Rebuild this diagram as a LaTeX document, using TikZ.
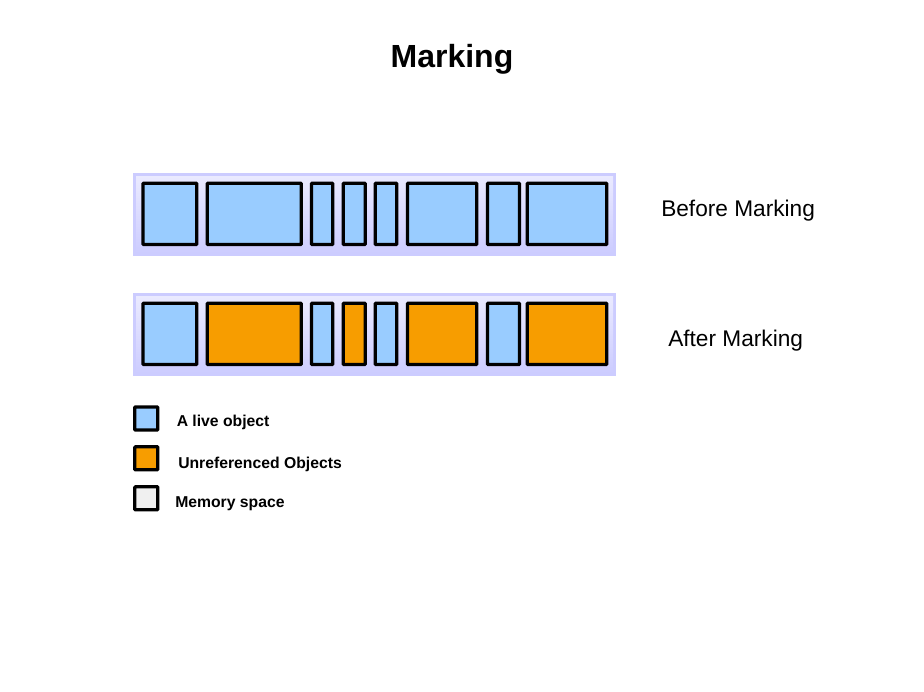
\documentclass[tikz,border=0pt]{standalone}
\usepackage{fontspec}
\setmainfont{Liberation Sans}
\definecolor{liveblue}{HTML}{99CCFF}
\definecolor{deadorange}{HTML}{F79D00}
\definecolor{heapband}{HTML}{CCCCFF}
\definecolor{heaplight}{HTML}{EAEAFF}
\definecolor{freegray}{HTML}{F0F0F0}

\begin{document}
\begin{tikzpicture}[x=0.75pt, y=-0.75pt,
    obj/.style={draw=black, line width=2.4pt, rounded corners=0.5pt},
    key/.style={obj, minimum size=17.25pt, inner sep=0pt},
    keytext/.style={anchor=base west, inner sep=0pt, font=\bfseries\fontsize{11.8}{13}\selectfont},
    rowtext/.style={anchor=base west, inner sep=0pt, font=\fontsize{17}{20}\selectfont}]
    \useasboundingbox (0,0) rectangle (924,692);
    \node[anchor=base, inner sep=0pt, font=\bfseries\fontsize{24}{28}\selectfont] (title) at (452,67.3) {Marking};

    % before marking: every object is live
    \fill[heapband] (133,173) rectangle (616,256);
    \shade[top color=heaplight, bottom color=heapband] (136,176) rectangle (613,253);
    \foreach \xa/\xb in {143/196.8, 207.2/301.2, 311.5/332.8, 343.2/365.2,
                         375.2/396.8, 407.5/476.8, 487.5/519.5, 527.2/606.8}
        \draw[obj, fill=liveblue] (\xa,183.2) rectangle (\xb,244.5);
    \node[rowtext] (before) at (661,216.7) {Before Marking};

    % after marking: unreferenced ones in orange
    \fill[heapband] (133,293) rectangle (616,376);
    \shade[top color=heaplight, bottom color=heapband] (136,296) rectangle (613,373);
    \foreach \xa/\xb/\c in {143/196.8/liveblue, 207.2/301.2/deadorange,
                            311.5/332.8/liveblue, 343.2/365.2/deadorange,
                            375.2/396.8/liveblue, 407.5/476.8/deadorange,
                            487.5/519.5/liveblue, 527.2/606.8/deadorange}
        \draw[obj, fill=\c] (\xa,303.2) rectangle (\xb,364.5);
    \node[rowtext] (after) at (668,346.7) {After Marking};

    % legend
    \node[key, fill=liveblue] (keylive) at (146.3,418.5) {};
    \node[key, fill=deadorange] (keyunref) at (146.3,458.3) {};
    \node[key, fill=freegray] (keyfree) at (146.3,498.3) {};
    \node[keytext] (livetext) at (176.5,426.7) {A live object};
    \node[keytext] (unreftext) at (178,468.3) {Unreferenced Objects};
    \node[keytext] (freetext) at (175,507.7) {Memory space};
\end{tikzpicture}
\end{document}
